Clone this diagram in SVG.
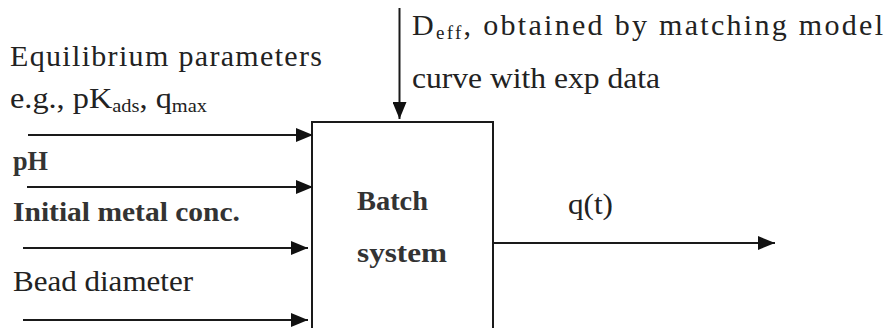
<svg xmlns="http://www.w3.org/2000/svg" width="893" height="328" viewBox="0 0 893 328">
<style>
text{font-family:'Liberation Serif','Times New Roman','DejaVu Serif',serif;font-size:30px;fill:#222}
.b{font-weight:bold;font-size:28px;fill:#333}
.sub{font-size:19px}
.ln{stroke:#1a1a1a;stroke-width:2;fill:none}
</style>
<defs>
<marker id="ah" markerUnits="userSpaceOnUse" markerWidth="18" markerHeight="14" refX="17" refY="7" orient="auto">
<path d="M0,0 L17,7 L0,14 z" fill="#111"/>
</marker>
</defs>
<g id="batch-system">
<path class="ln" d="M312,340 V122 H493 V340"/>
<text class="b" font-family="Liberation Serif, serif" x="357" y="210" textLength="71" lengthAdjust="spacingAndGlyphs">Batch</text>
<text class="b" font-family="Liberation Serif, serif" x="357" y="262" textLength="90" lengthAdjust="spacingAndGlyphs">system</text>
</g>
<g id="labels" font-family="Liberation Serif, serif">
<text font-family="Liberation Serif, serif" x="10" y="66" textLength="312" lengthAdjust="spacing">Equilibrium parameters</text>
<text font-family="Liberation Serif, serif" x="10" y="108" font-size="28" textLength="197" lengthAdjust="spacingAndGlyphs">e.g., pK<tspan class="sub" dy="4">ads</tspan><tspan dy="-4">, q</tspan><tspan class="sub" dy="4">max</tspan></text>
<text class="b" font-family="Liberation Serif, serif" x="13" y="170" textLength="35" lengthAdjust="spacingAndGlyphs">pH</text>
<text class="b" font-family="Liberation Serif, serif" x="13" y="221" textLength="227" lengthAdjust="spacingAndGlyphs">Initial metal conc.</text>
<text font-family="Liberation Serif, serif" x="13" y="291" textLength="180" lengthAdjust="spacingAndGlyphs">Bead diameter</text>
<text font-family="Liberation Serif, serif" x="412" y="35" textLength="471" lengthAdjust="spacing">D<tspan class="sub" dy="4">eff</tspan><tspan dy="-4">, obtained by matching model</tspan></text>
<text font-family="Liberation Serif, serif" x="412" y="88" textLength="248" lengthAdjust="spacingAndGlyphs">curve with exp data</text>
<text font-family="Liberation Serif, serif" x="568" y="214" font-size="28" textLength="45" lengthAdjust="spacingAndGlyphs">q(t)</text>
</g>
<g id="connectors">
<line class="ln" x1="399.5" y1="8" x2="399.5" y2="119" marker-end="url(#ah)"/>
<line class="ln" x1="28" y1="135" x2="313" y2="135" marker-end="url(#ah)"/>
<line class="ln" x1="27" y1="187" x2="313" y2="187" marker-end="url(#ah)"/>
<line class="ln" x1="23" y1="248" x2="308" y2="248" marker-end="url(#ah)"/>
<line class="ln" x1="23" y1="320" x2="308" y2="320" marker-end="url(#ah)"/>
<line class="ln" x1="493" y1="243" x2="775" y2="243" marker-end="url(#ah)"/>
</g>
</svg>
